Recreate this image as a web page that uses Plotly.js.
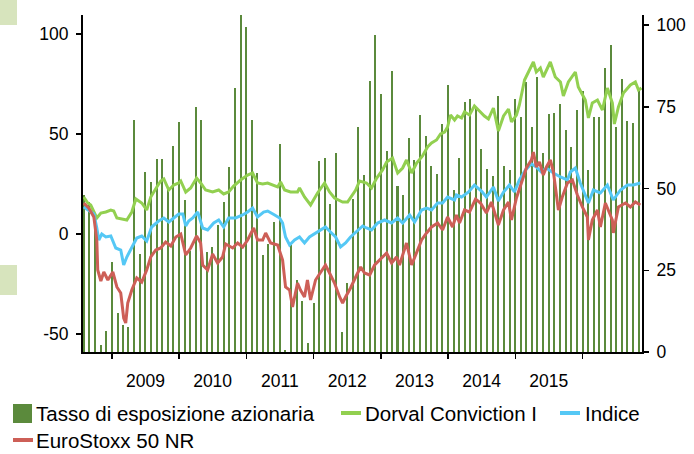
<!DOCTYPE html>
<html><head><meta charset="utf-8">
<script src="https://cdn.plot.ly/plotly-3.0.1.min.js"></script>
<style>html,body{margin:0;padding:0;background:#fff}#chart{width:694px;height:454px}</style>
</head><body><div id="chart"></div>
<script>
// ---- Data ----
const barMonths = [
 '2008-08','2008-09','2008-10','2008-11','2008-12',
 '2009-01','2009-02','2009-03','2009-04','2009-05','2009-06','2009-07','2009-08','2009-09','2009-10','2009-11','2009-12',
 '2010-01','2010-02','2010-03','2010-04','2010-05','2010-06','2010-07','2010-08','2010-09','2010-10','2010-11','2010-12',
 '2011-01','2011-02','2011-03','2011-04','2011-05','2011-06','2011-07','2011-08','2011-09','2011-10','2011-11','2011-12',
 '2012-01','2012-02','2012-03','2012-04','2012-05','2012-06','2012-07','2012-08','2012-09','2012-10','2012-11','2012-12',
 '2013-01','2013-02','2013-03','2013-04','2013-05','2013-06','2013-07','2013-08','2013-09','2013-10','2013-11','2013-12',
 '2014-01','2014-02','2014-03','2014-04','2014-05','2014-06','2014-07','2014-08','2014-09','2014-10','2014-11','2014-12',
 '2015-01','2015-02','2015-03','2015-04','2015-05','2015-06','2015-07','2015-08','2015-09','2015-10','2015-11','2015-12',
 '2016-01','2016-02','2016-03','2016-04','2016-05','2016-06','2016-07','2016-08','2016-09','2016-10','2016-11','2016-12'
];
const exposure = [
 48,46,42,2,6.5,27.5,12,8.3,7.6,71,
 30,55,52,59,59,50,63,70.3,46.5,31,
 75,71,30.6,32,39,46,56.6,80.7,105,99.4,
 71,54.7,29.7,33,39.8,63.6,0.5,32.7,22,15.6,
 2.8,15,58.4,59.3,45.3,60.9,6,21,46.8,68.8,
 54,82.9,97,78.9,61.5,86,50.8,48,65.4,58.7,
 72.5,66,57,54.4,69.7,81.6,49.5,59.3,76.5,77.4,
 75,62,56,53.8,78.3,57,55.7,77.4,72,82.6,
 68.8,84,61,72.8,73,76,68,62.7,74,80,
 55.7,71.9,72,87,94,68.8,83.5,70.6,70,80,
 74.6
];

// time in decimal years, performance in %
const dorvalT = [2008.584,2008.643,2008.688,2008.733,2008.777,2008.837,2008.911,2008.985,2009.030,2009.074,
 2009.149,2009.223,2009.297,2009.357,2009.401,2009.446,2009.520,2009.580,2009.669,2009.728,
 2009.773,2009.847,2009.921,2009.996,2010.025,2010.100,2010.174,2010.263,2010.322,2010.397,
 2010.501,2010.590,2010.664,2010.739,2010.813,2010.917,2011.021,2011.095,2011.169,2011.244,
 2011.318,2011.392,2011.467,2011.511,2011.571,2011.660,2011.764,2011.794,2011.868,2011.957,
 2012.061,2012.165,2012.239,2012.314,2012.432,2012.507,2012.581,2012.626,2012.685,2012.789,
 2012.863,2012.938,2013.027,2013.086,2013.175,2013.250,2013.324,2013.383,2013.458,2013.532,
 2013.621,2013.695,2013.755,2013.829,2013.889,2013.948,2013.993,2014.037,2014.097,2014.141,
 2014.201,2014.245,2014.320,2014.394,2014.468,2014.542,2014.602,2014.676,2014.750,2014.825,
 2014.899,2014.944,2015.018,2015.062,2015.137,2015.211,2015.271,2015.315,2015.374,2015.419,
 2015.523,2015.597,2015.672,2015.716,2015.791,2015.895,2015.939,2016.043,2016.088,2016.147,
 2016.222,2016.296,2016.370,2016.444,2016.474,2016.534,2016.608,2016.712,2016.786,2016.831,
 2016.875];
const dorvalV = [18.5,15.5,14.5,11,8,10.5,11,12,11.5,8,
 7.5,7,11,17.5,16.5,15.5,12,18.5,23.5,26.5,
 27.5,22,24.5,25.5,26.5,21,23,28,25.5,22,
 21,22,20,21,24,27,29.5,30.5,25.5,25,
 25.5,24.5,23.5,26,22,21,21,23,18.5,14.5,
 20.5,25.5,21,18,16,16,19.5,22,26.5,25.5,
 23,28,32,36,38,30.5,33,37,30.5,35.5,
 39,43.5,45.5,47,50,51,53.5,59.5,57,59,
 58,61,59.5,64,61.5,59,57.5,63,51.5,59,
 62.5,56,59.5,64.5,77,82.5,86,81,83,78.5,
 86,78.5,76,69,76,81,73.5,67,58,65.5,
 67,62,73,65.5,55,63.5,70.5,74.5,76,72,
 73];

const indiceT = [2008.584,2008.688,2008.733,2008.777,2008.807,2008.851,2008.911,2008.985,2009.059,2009.134,
 2009.178,2009.223,2009.297,2009.371,2009.446,2009.520,2009.594,2009.698,2009.773,2009.847,
 2009.921,2009.996,2010.055,2010.100,2010.144,2010.204,2010.278,2010.352,2010.426,2010.516,
 2010.590,2010.664,2010.739,2010.843,2010.947,2011.021,2011.095,2011.169,2011.259,2011.318,
 2011.422,2011.496,2011.541,2011.585,2011.645,2011.719,2011.794,2011.868,2011.942,2012.031,
 2012.106,2012.180,2012.254,2012.328,2012.403,2012.477,2012.551,2012.626,2012.730,2012.789,
 2012.863,2012.953,2013.057,2013.161,2013.250,2013.324,2013.428,2013.502,2013.606,2013.681,
 2013.755,2013.844,2013.918,2013.993,2014.097,2014.126,2014.201,2014.305,2014.394,2014.498,
 2014.572,2014.676,2014.750,2014.825,2014.914,2014.988,2015.062,2015.152,2015.241,2015.315,
 2015.389,2015.464,2015.568,2015.672,2015.776,2015.820,2015.895,2015.969,2016.088,2016.162,
 2016.266,2016.370,2016.459,2016.563,2016.667,2016.756,2016.860];
const indiceV = [13.5,11,10,3,-3,0,-1.5,-1,-7,-8,
 -15.5,-11.5,-6.5,-2,-1,-3.5,3.5,6.5,8,6,
 8,10,10,4,6.5,8,11,3,2,5.5,
 7,3.5,8,8,9.5,11,13,8.5,11,11.5,
 9.5,8,5.5,-1.5,-5.5,-3,-1.5,-4.5,-1.5,0.5,
 2,3.5,1,-1.5,-6.5,-4.5,-1.5,1,4,3,
 2,5.5,7,5.5,8,5.5,9.5,6,12,13,
 12,15.5,15.5,18.5,17,19.5,18.5,21,24.5,21.5,
 18.5,23.5,16.5,21,24.5,21,27,32,35,33.5,
 31,33,30.5,28.5,27,31,33,25.5,15.5,22,
 20.5,24.5,17,22,24.5,24.5,25.5];

const stoxxT = [2008.584,2008.658,2008.733,2008.777,2008.792,2008.837,2008.881,2008.941,2009.015,2009.074,
 2009.134,2009.178,2009.208,2009.238,2009.297,2009.371,2009.446,2009.520,2009.580,2009.654,
 2009.728,2009.802,2009.877,2009.951,2010.025,2010.100,2010.174,2010.263,2010.322,2010.352,
 2010.426,2010.501,2010.575,2010.649,2010.694,2010.798,2010.872,2010.947,2011.021,2011.110,
 2011.169,2011.244,2011.288,2011.363,2011.467,2011.541,2011.585,2011.645,2011.690,2011.764,
 2011.808,2011.868,2011.912,2011.957,2012.031,2012.106,2012.180,2012.239,2012.314,2012.388,
 2012.432,2012.477,2012.551,2012.626,2012.700,2012.759,2012.834,2012.908,2013.012,2013.086,
 2013.161,2013.235,2013.279,2013.383,2013.458,2013.532,2013.606,2013.681,2013.755,2013.844,
 2013.918,2013.993,2014.067,2014.126,2014.171,2014.245,2014.320,2014.409,2014.483,2014.572,
 2014.646,2014.750,2014.825,2014.899,2014.944,2015.018,2015.092,2015.167,2015.241,2015.271,
 2015.315,2015.360,2015.419,2015.464,2015.523,2015.568,2015.642,2015.701,2015.776,2015.850,
 2015.924,2015.999,2016.073,2016.088,2016.147,2016.222,2016.266,2016.340,2016.444,2016.459,
 2016.534,2016.638,2016.712,2016.786,2016.860];
const stoxxV = [15.5,13,8.5,-3,-18,-23.5,-19,-23,-19,-26.5,
 -29.5,-42,-44.5,-34.5,-28,-22,-24,-18,-11.5,-8,
 -7,-4,-6,-1.5,0,-10.5,-7,-1,-4.5,-15.5,
 -18,-10,-14.5,-11.5,-5,-7,-4.5,-6.5,-3,3,
 -3,-3,0.5,-4.5,-5.5,-13,-26.5,-28,-36.5,-24.5,
 -28,-31.5,-23,-33,-23,-19.5,-15.5,-19.5,-24.5,-31.5,
 -34.5,-31.5,-27,-21.5,-16.5,-19.5,-20.5,-15.5,-12,-9.5,
 -14.5,-11.5,-15.5,-4.5,-15.5,-9.5,-3,0.5,3.5,5.5,
 2,8.5,3.5,9.5,5.5,12,11,17.5,15.5,10.5,
 16,4.5,12,16,7,18,25.5,33,37,41,
 33.5,36,29.5,33.5,37,31,12,18.5,25.5,27,
 19.5,13.5,8.5,-3,7,12,3.5,15.5,7,0.5,
 13.5,15.5,13.5,16,14.5];

const seriesNames = ['Tasso di esposizione azionaria','Dorval Conviction I','Indice','EuroStoxx 50 NR'];
const yearStarts = ['2009-01-01','2010-01-01','2011-01-01','2012-01-01','2013-01-01','2014-01-01','2015-01-01','2016-01-01'];
const yearMids = ['2009-07-02','2010-07-02','2011-07-02','2012-07-02','2013-07-02','2014-07-02','2015-07-02'];
const yearLabels = ['2009','2010','2011','2012','2013','2014','2015'];
const leftTicks = [-50,0,50,100];
const leftTickText = ['-50','0','50','100'];
const rightTicks = [0,25,50,75,100];

// ---- Helpers ----
function decYearToDate(t){
  const y = Math.floor(t);
  const a = Date.UTC(y,0,1), b = Date.UTC(y+1,0,1);
  return new Date(a + (t-y)*(b-a)).toISOString().slice(0,10);
}

const FONT = 'Liberation Sans, Arial, sans-serif';
const C_BAR = '#5B8A3C', C_GREEN = '#92D050', C_BLUE = '#55C8F5', C_RED = '#CD5F57';
const tickFont = {family: FONT, size: 17.5, color: '#000'};

const traces = [
  {type:'bar', name: seriesNames[0], x: barMonths, y: exposure, xaxis:'x', yaxis:'y',
   marker:{color:C_BAR, line:{width:0}}, width: 11*24*3600*1000, hoverinfo:'skip'},
  {type:'scatter', mode:'lines', name: seriesNames[1], x: dorvalT.map(decYearToDate), y: dorvalV,
   xaxis:'x', yaxis:'y2', line:{color:C_GREEN, width:3}},
  {type:'scatter', mode:'lines', name: seriesNames[2], x: indiceT.map(decYearToDate), y: indiceV,
   xaxis:'x', yaxis:'y2', line:{color:C_BLUE, width:3}},
  {type:'scatter', mode:'lines', name: seriesNames[3], x: stoxxT.map(decYearToDate), y: stoxxV,
   xaxis:'x', yaxis:'y2', line:{color:C_RED, width:3}}
];

// pixel -> paper helpers for decorations (plot area 83..642 x 15..352)
const PL = 83, PW = 559, PB = 352, PH = 337;
const px = v => (v - PL) / PW;
const py = v => (PB - v) / PH;

const shapes = [
  {type:'rect', xref:'paper', yref:'paper', x0:px(0), x1:px(17), y0:py(25), y1:py(0), fillcolor:'#D7E4BD', line:{width:0}},
  {type:'rect', xref:'paper', yref:'paper', x0:px(0), x1:px(17), y0:py(295), y1:py(265), fillcolor:'#D7E4BD', line:{width:0}},
  // legend symbols
  {type:'rect', xref:'paper', yref:'paper', x0:px(13), x1:px(32), y0:py(423), y1:py(404), fillcolor:C_BAR, line:{width:0}},
  {type:'line', xref:'paper', yref:'paper', x0:px(341), x1:px(361), y0:py(413), y1:py(413), line:{color:C_GREEN, width:4}},
  {type:'line', xref:'paper', yref:'paper', x0:px(560), x1:px(580), y0:py(413), y1:py(413), line:{color:C_BLUE, width:4}},
  {type:'line', xref:'paper', yref:'paper', x0:px(13), x1:px(33), y0:py(440), y1:py(440), line:{color:C_RED, width:4}}
];
const legFont = {family: FONT, size: 20.5, color:'#000'};
const annotations = [
  {xref:'paper', yref:'paper', x:px(34), y:py(413), xanchor:'left', yanchor:'middle', text: seriesNames[0], showarrow:false, font:legFont},
  {xref:'paper', yref:'paper', x:px(363), y:py(413), xanchor:'left', yanchor:'middle', text: seriesNames[1], showarrow:false, font:legFont},
  {xref:'paper', yref:'paper', x:px(583), y:py(413), xanchor:'left', yanchor:'middle', text: seriesNames[2], showarrow:false, font:legFont},
  {xref:'paper', yref:'paper', x:px(34), y:py(440), xanchor:'left', yanchor:'middle', text: seriesNames[3], showarrow:false, font:legFont}
];

const layout = {
  width:694, height:454,
  margin:{l:83, r:52, t:15, b:102, pad:0},
  paper_bgcolor:'#fff', plot_bgcolor:'#fff',
  showlegend:false, bargap:0,
  font:{family:FONT, color:'#000'},
  xaxis:{type:'date', range:['2008-07-28','2016-11-19'], showgrid:false, zeroline:false,
    showline:true, linecolor:'#000', linewidth:2,
    tickmode:'array', tickvals:yearMids, ticktext:yearLabels,
    ticks:'outside', ticklen:5, tickcolor:'rgba(0,0,0,0)', ticklabelstandoff:7, tickfont:tickFont,
    minor:{tickmode:'array', tickvals:yearStarts, ticks:'outside', ticklen:5, tickwidth:1.5, tickcolor:'#000', showgrid:false}},
  yaxis:{side:'right', range:[0,103.1], tickmode:'array', tickvals:rightTicks,
    ticks:'outside', ticklen:5, tickwidth:1.5, tickcolor:'#000',
    showline:true, linecolor:'#000', linewidth:2, showgrid:false, zeroline:false,
    tickfont:tickFont, ticklabelstandoff:4},
  yaxis2:{overlaying:'y', side:'left', range:[-59,109.5], tickmode:'array', tickvals:leftTicks, ticktext:leftTickText,
    ticks:'outside', ticklen:5, tickwidth:1.5, tickcolor:'#000',
    showline:true, linecolor:'#000', linewidth:2, showgrid:false, zeroline:false,
    tickfont:tickFont, ticklabelstandoff:4},
  shapes: shapes,
  annotations: annotations
};

Plotly.newPlot('chart', traces, layout, {displayModeBar:false, staticPlot:true});
</script>
</body></html>
